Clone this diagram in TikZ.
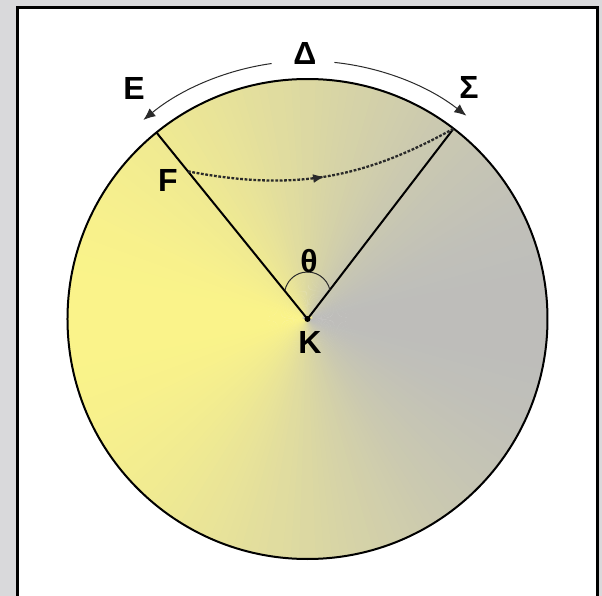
\documentclass[tikz,border=0pt]{standalone}
\usepackage{fontspec}
\setmainfont{Liberation Sans}
\usepackage{tikz}
\usetikzlibrary{arrows.meta,calc,decorations.markings}
\definecolor{pageGrey}{HTML}{D9D9DB}
\definecolor{discYellow}{HTML}{FAF38A}
\definecolor{discGrey}{HTML}{BDBDBB}
\definecolor{inkGrey}{HTML}{2A2A2A}
\tikzset{
  frame/.style={draw=black, line width=1.75pt, fill=white},
  disc rim/.style={draw=black, line width=1pt},
  radius line/.style={draw=black, line width=1pt},
  rim arrow/.style={-{Latex[length=6pt,width=5pt]}, draw=inkGrey,
    line width=0.5pt},
  sweep/.style={draw=inkGrey, line width=1.15pt,
    dash pattern=on 1.4pt off 0.8pt,
    postaction={decorate, decoration={markings,
      mark=at position 0.5 with {\arrow[solid]{Latex[length=6pt,width=4.5pt]}}}}},
  angle mark/.style={draw=inkGrey, line width=0.5pt},
  point label/.style={font=\bfseries\fontsize{16}{19}\selectfont, inner sep=0pt}
}
\begin{document}
\begin{tikzpicture}[x=0.5pt,y=0.5pt]
  % page and frame (1 unit = 1 px of the original)
  \fill[pageGrey] (-307.5,-277) rectangle (294.5,319);
  \useasboundingbox (-307.5,-277) rectangle (294.5,319);
  \begin{scope}
    \clip (-307.5,-277) rectangle (294.5,319);
    \path[frame] (-290,-330) rectangle (290,311.5);
  \end{scope}
  \coordinate (K) at (0,0);
  \coordinate (E) at (129:240);
  \coordinate (S) at (52.5:240);
  \coordinate (F) at (129:190);
  % disc, yellow to grey round the centre
  \begin{scope}
    \clip (K) circle (240.5);
    \foreach \a in {0,2,...,358}{
      \pgfmathtruncatemacro{\mixp}{50+50*cos(\a+1)}
      \fill[discGrey!\mixp!discYellow] ($(K)+(\a+181:5)$) -- (\a:241)
        arc[start angle=\a, end angle=\a+2.4, radius=241] -- cycle;
    }
  \end{scope}
  \draw[disc rim] (K) circle (240);
  \draw[radius line] (K) -- (E);
  \draw[radius line] (K) -- (S);
  \fill (K) circle (3);
  % angle at the centre
  \draw[angle mark] ($(K)+(12:23)+(0,24)$) arc[start angle=12, end angle=168, radius=23];
  % arc over the rim
  \draw[rim arrow] (98:258) arc[start angle=98, end angle=129.5, radius=258];
  \draw[rim arrow] (84:258) arc[start angle=84, end angle=52, radius=258];
  \draw[sweep] (F) to[bend right=20] (S);
  \node[point label] (delta) at (-2.5,266) {Δ};
  \node[point label] (lblE) at (-173.5,231) {E};
  \node[point label] (lblS) at (161.5,232) {Σ};
  \node[point label] (lblF) at (-139.5,139) {F};
  \node[point label] (theta) at (1.5,58) {θ};
  \node[point label] (lblK) at (2.5,-23) {K};
\end{tikzpicture}
\end{document}
